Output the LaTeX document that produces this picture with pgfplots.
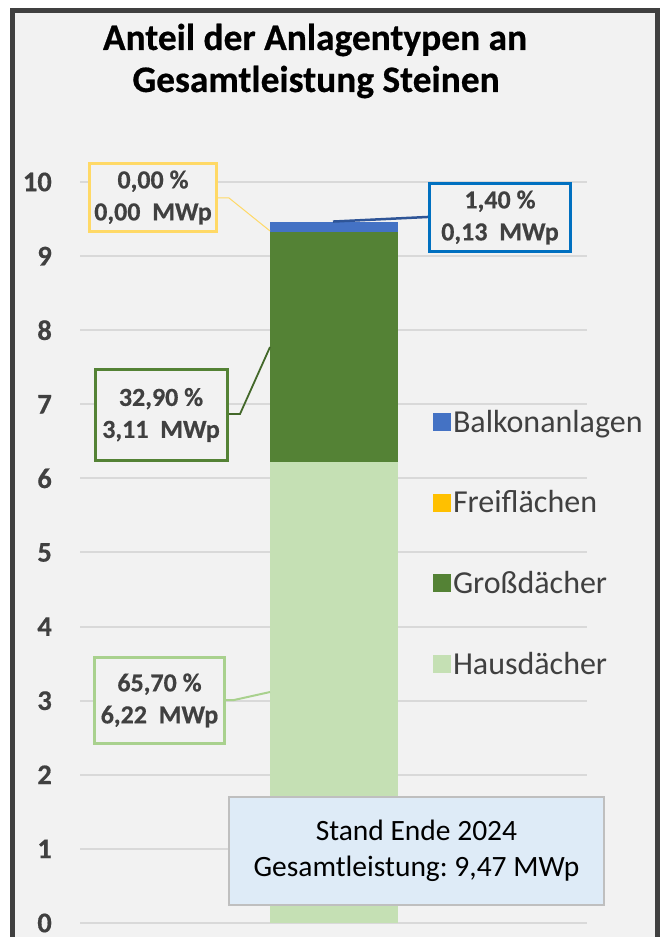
\documentclass[border=0pt]{standalone}
\usepackage{pgfplots}
\pgfplotsset{compat=1.18}
\usepackage{fontspec}
\setmainfont{Carlito}[BoldFeatures={FakeBold=0.5}]
\definecolor{bg}{HTML}{F2F2F2}
\definecolor{frame}{HTML}{404040}
\definecolor{gridc}{HTML}{D9D9D9}
\definecolor{txt}{HTML}{404040}
\definecolor{haus}{HTML}{C5E0B4}
\definecolor{gross}{HTML}{548235}
\definecolor{frei}{HTML}{FFC000}
\definecolor{balkon}{HTML}{4472C4}
\definecolor{yelb}{HTML}{FFD966}
\definecolor{greenb}{HTML}{548235}
\definecolor{lgreenb}{HTML}{A9D18E}
\definecolor{blueb}{HTML}{0070C0}
\definecolor{blueleader}{HTML}{2F5597}
\definecolor{totfill}{HTML}{DEEBF7}
\definecolor{totdraw}{HTML}{BFBFBF}
\frenchspacing
\begin{document}
\begin{tikzpicture}[x=1bp,y=1bp]
\path[use as bounding box, clip] (0,0) rectangle (662,937);
\fill[white] (0,0) rectangle (662,937);
\draw[line width=5bp, draw=frame, fill=bg] (12.5,-20) rectangle (657.5,926.5);
\node[anchor=base, font=\bfseries\fontsize{37.4bp}{42bp}\selectfont] at (315,937-50) {Anteil der Anlagentypen an};
\node[anchor=base, font=\bfseries\fontsize{37.4bp}{42bp}\selectfont] at (316,937-92) {Gesamtleistung Steinen};
\begin{axis}[
  at={(80bp,14bp)}, anchor=south west,
  width=507bp, height=741bp, scale only axis,
  xmin=0, xmax=1, ymin=0, ymax=10,
  ybar stacked, bar width=128bp,
  clip=false,
  axis line style={draw=none},
  xtick=\empty,
  ytick={0,1,...,10},
  major tick length=0pt,
  ymajorgrids,
  grid style={line width=2bp, color=gridc},
  /pgf/number format/assume math mode=true,
  yticklabel style={font=\bfseries\fontsize{28.5bp}{32bp}\selectfont, text=txt, anchor=east, inner sep=0pt, xshift=-28bp},
  reverse legend,
  legend style={at={(0.69,0.698)}, anchor=north west, draw=none, fill=none,
    font=\fontsize{32bp}{37bp}\selectfont, text=txt, row sep=53bp},
  legend cell align=left,
  legend image code/.code={\fill[#1] (-5bp,-9bp) rectangle (13bp,9bp);},
]
\addplot[fill=haus, draw=none] coordinates {(0.5,6.22)};
\addlegendentry{Hausdächer}
\addplot[fill=gross, draw=none] coordinates {(0.5,3.11)};
\addlegendentry{Großdächer}
\addplot[fill=frei, draw=none] coordinates {(0.5,0.00)};
\addlegendentry{Freiflächen}
\addplot[fill=balkon, draw=none] coordinates {(0.5,0.13)};
\addlegendentry{Balkonanlagen}

\coordinate (y1) at (axis cs:0.2722,9.784);
\coordinate (y2) at (axis cs:0.2939,9.784);
\coordinate (y3) at (axis cs:0.3748,9.339);
\coordinate (b1) at (axis cs:0.6864,9.528);
\coordinate (b2) at (axis cs:0.499,9.466);
\coordinate (g1) at (axis cs:0.2939,6.869);
\coordinate (g2) at (axis cs:0.3156,6.869);
\coordinate (g3) at (axis cs:0.3748,7.773);
\coordinate (h1) at (axis cs:0.286,3.009);
\coordinate (h2) at (axis cs:0.3037,3.009);
\coordinate (h3) at (axis cs:0.3748,3.117);
\coordinate (ly) at (axis cs:0.144,9.791);
\coordinate (lb) at (axis cs:0.8284,9.521);
\coordinate (lg) at (axis cs:0.1598,6.856);
\coordinate (lh) at (axis cs:0.1568,3.003);
\coordinate (lt) at (axis cs:0.6637,0.9717);
\end{axis}

% leader lines
\draw[yelb, line width=1bp] (y1) -- (y2) -- (y3);
\draw[blueleader, line width=2.5bp] (b1) -- (b2);
\draw[greenb!80!black, line width=1.8bp] (g1) -- (g2) -- (g3);
\draw[lgreenb, line width=2bp] (h1) -- (h2) -- (h3);

% label boxes
\tikzset{lbl/.style={line width=3bp, fill=bg, align=center, text=txt, inner sep=0pt,
  font=\bfseries\fontsize{26bp}{32bp}\selectfont}}
\node[lbl, draw=yelb, minimum width=127bp, minimum height=68bp] at (ly) {0,00 \%\\0,00\ \ MWp};
\node[lbl, draw=blueb, minimum width=141bp, minimum height=68bp] at (lb) {1,40 \%\\0,13\ \ MWp};
\node[lbl, draw=greenb, minimum width=132bp, minimum height=91bp] at (lg) {32,90 \%\\3,11\ \ MWp};
\node[lbl, draw=lgreenb, minimum width=129bp, minimum height=86bp] at (lh) {65,70 \%\\6,22\ \ MWp};
\node[line width=2bp, draw=totdraw, fill=totfill, align=center, inner sep=0pt,
  minimum width=375bp, minimum height=108bp,
  font=\fontsize{29.5bp}{36bp}\selectfont] at (lt) {Stand Ende 2024\\Gesamtleistung: 9,47 MWp};
\end{tikzpicture}
\end{document}
